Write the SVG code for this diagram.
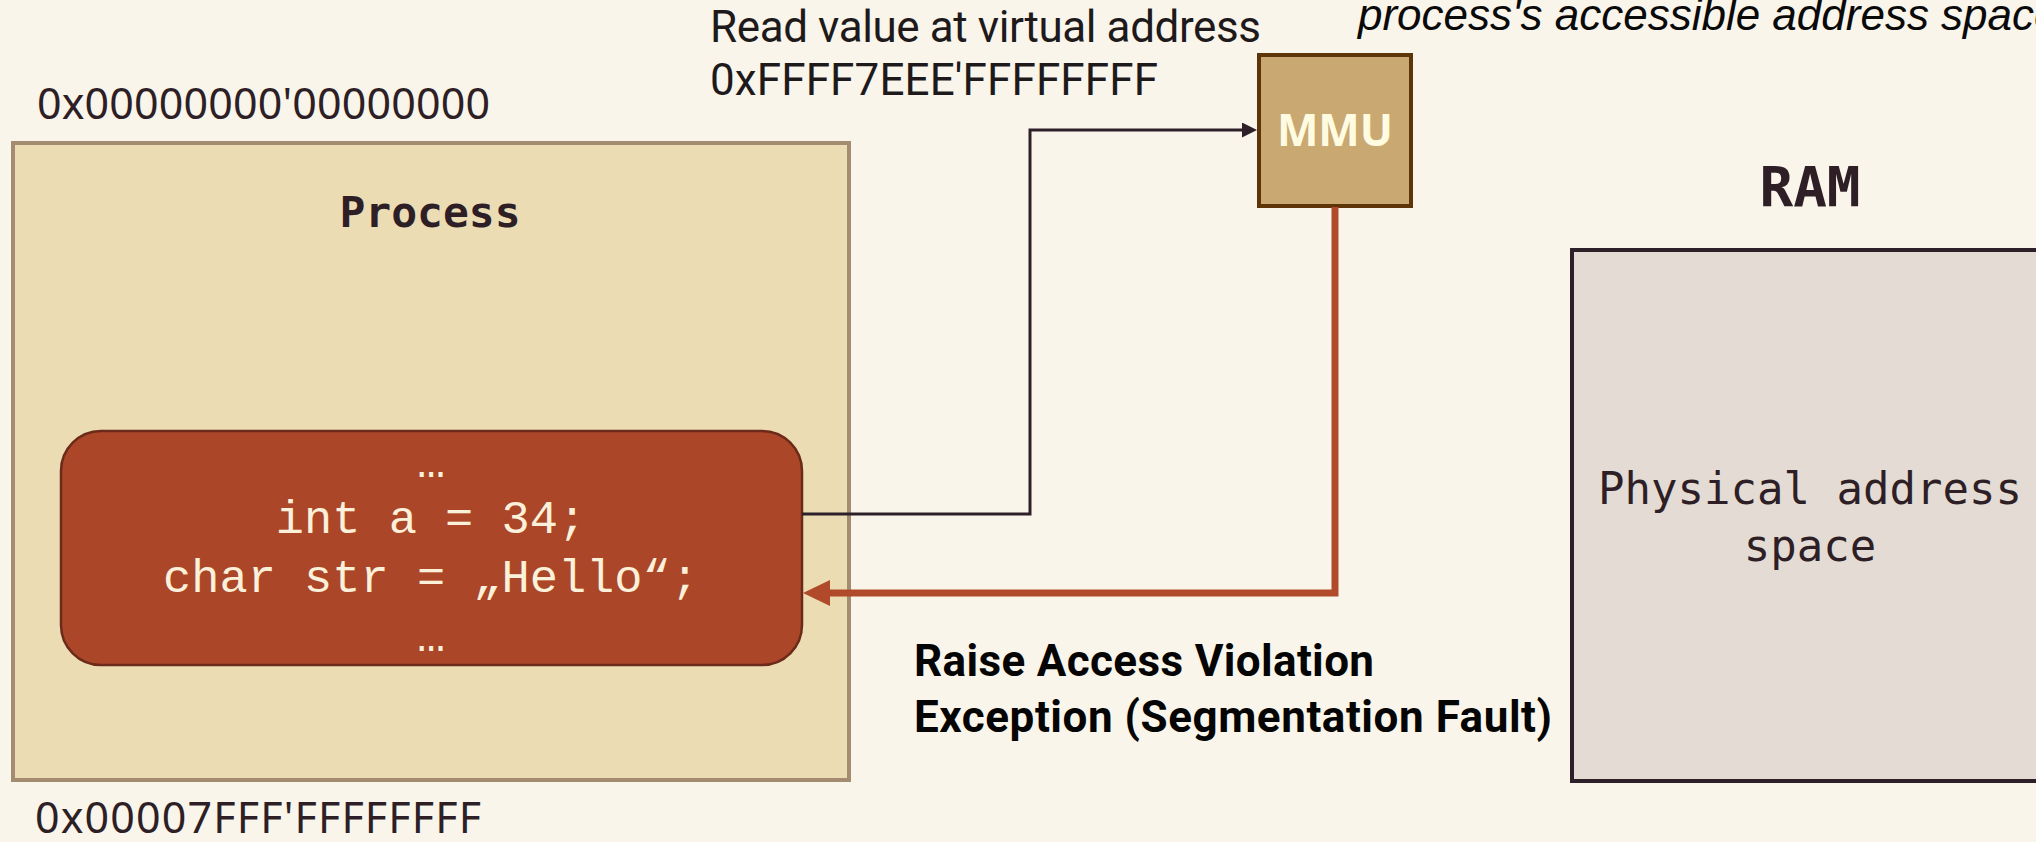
<svg xmlns="http://www.w3.org/2000/svg" width="2036" height="842" viewBox="0 0 2036 842">
  <style>
    .addr { font-family: "Noto Sans", "Liberation Sans", sans-serif; font-size: 43px; fill: #2E1F26; }
    .note { font-family: Roboto, "Liberation Sans", sans-serif; font-size: 44px; fill: #1E1A1C; }
    .warn { font-family: Roboto, "Liberation Sans", sans-serif; font-size: 44px; font-weight: bold; fill: #050505; }
    .title { font-family: "DejaVu Sans Mono", "Liberation Mono", monospace; font-weight: bold; fill: #2E1F26; text-anchor: middle; }
    .code { font-family: "Liberation Mono", "Courier New", monospace; font-size: 47px; fill: #FBF0DA; text-anchor: middle; }
    .phys { font-family: "DejaVu Sans Mono", "Liberation Mono", monospace; font-size: 44px; fill: #2E1F26; text-anchor: middle; }
    .wire { fill: none; stroke: #2E2028; stroke-width: 3; }
    .fault { fill: none; stroke: #B04A2A; stroke-width: 7; }
  </style>
  <defs>
    <marker id="head-dark" viewBox="0 0 15 15" markerWidth="15" markerHeight="15" markerUnits="userSpaceOnUse" refX="8" refY="7.5" orient="auto">
      <path d="M0,0 L15,7.5 L0,15 z" fill="#2E2028"/>
    </marker>
    <marker id="head-red" viewBox="0 0 27 26" markerWidth="27" markerHeight="26" markerUnits="userSpaceOnUse" refX="15" refY="13" orient="auto">
      <path d="M0,0 L27,13 L0,26 z" fill="#B04A2A"/>
    </marker>
  </defs>

  <!-- page background -->
  <rect x="0" y="0" width="2036" height="842" fill="#FAF5EA"/>

  <!-- caption continuing above the top edge -->
  <text x="1358" y="30" font-family="'Liberation Sans', Arial, sans-serif" font-size="44" font-style="italic" fill="#0A0A0A">process's accessible address space</text>

  <!-- process virtual address space -->
  <g id="process">
    <text class="addr" x="37" y="119" textLength="453">0x00000000'00000000</text>
    <rect x="13" y="143" width="836" height="637" fill="#EBDCB4" stroke="#A38C6F" stroke-width="4"/>
    <text class="title" x="430" y="227" font-size="43">Process</text>
    <text class="addr" x="35" y="833" textLength="446">0x00007FFF'FFFFFFFF</text>
  </g>

  <!-- code block inside the process -->
  <g id="code">
    <rect x="61" y="431" width="741" height="234" rx="40" ry="40" fill="#AB4728" stroke="#6B2A1A" stroke-width="2.5"/>
    <text class="code" x="431" y="477">…</text>
    <text class="code" x="431" y="533">int a = 34;</text>
    <text class="code" x="431" y="592">char str = „Hello“;</text>
    <text class="code" x="431" y="651">…</text>
  </g>

  <!-- memory management unit -->
  <g id="mmu">
    <rect x="1259" y="55" width="152" height="151" fill="#C9A872" stroke="#5E3508" stroke-width="4"/>
    <text x="1335" y="146" font-family="'Noto Sans', 'Liberation Sans', sans-serif" font-size="44" font-weight="bold" fill="#FFFBE0" text-anchor="middle">MMU</text>
  </g>

  <!-- physical memory -->
  <g id="ram">
    <text class="title" x="1810" y="206" font-size="56">RAM</text>
    <rect x="1572" y="250" width="480" height="531" fill="#E3DBD4" stroke="#2E2028" stroke-width="4"/>
    <text class="phys" x="1810" y="504">Physical address</text>
    <text class="phys" x="1810" y="561">space</text>
  </g>

  <!-- connector labels -->
  <g id="labels">
    <text class="note" x="710" y="42" textLength="551">Read value at virtual address</text>
    <text class="note" x="710" y="95" textLength="448">0xFFFF7EEE'FFFFFFFF</text>
    <text class="warn" x="914" y="676" textLength="460">Raise Access Violation</text>
    <text class="warn" x="914" y="732" textLength="638">Exception (Segmentation Fault)</text>
  </g>

  <!-- connectors -->
  <g id="connectors">
    <path class="wire" d="M802,514 H1030 V130 H1250" marker-end="url(#head-dark)"/>
    <path class="fault" d="M1335,207 V593 H815" marker-end="url(#head-red)"/>
  </g>
</svg>
